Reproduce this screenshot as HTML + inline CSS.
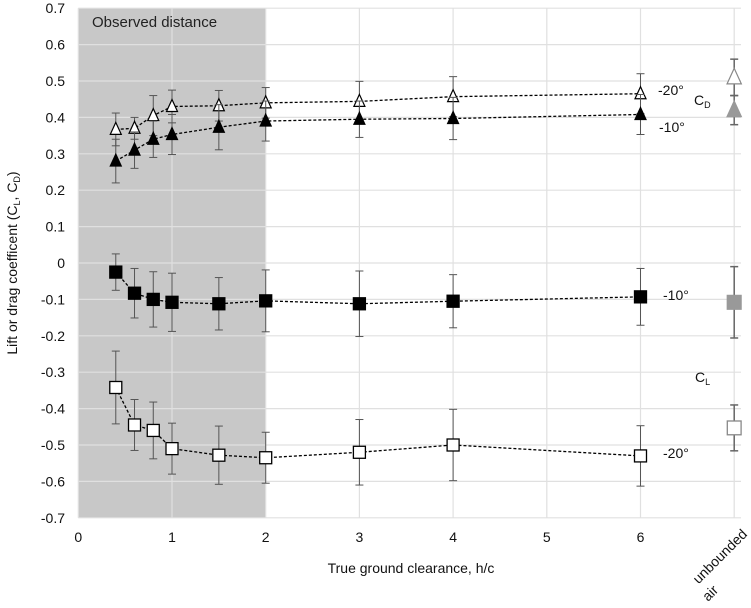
<!DOCTYPE html>
<html><head><meta charset="utf-8"><style>
body{margin:0;background:#fff;}
svg{display:block;font-family:"Liberation Sans",sans-serif;}
</style></head><body>
<svg id="chart" width="751" height="608"></svg>
<script>
const xCats=[0.4,0.6,0.8,1,1.5,2,3,4,6];
const cdM20=[0.367,0.37,0.405,0.43,0.432,0.44,0.444,0.457,0.465];
const cdM20Err=[0.045,0.03,0.055,0.045,0.042,0.042,0.055,0.055,0.055];
const cdM10=[0.28,0.31,0.34,0.353,0.373,0.39,0.395,0.397,0.408];
const cdM10Err=[0.06,0.05,0.05,0.055,0.062,0.055,0.05,0.058,0.055];
const clM10=[-0.025,-0.083,-0.1,-0.108,-0.112,-0.104,-0.112,-0.105,-0.093];
const clM10Err=[0.05,0.068,0.076,0.08,0.072,0.085,0.09,0.073,0.078];
const clM20=[-0.342,-0.445,-0.46,-0.51,-0.528,-0.535,-0.52,-0.5,-0.53];
const clM20Err=[0.1,0.07,0.078,0.07,0.08,0.07,0.09,0.098,0.083];
const unbX=7;
const unbVals=[0.51,0.42,-0.108,-0.453];
const unbErr=[0.05,0.04,0.098,0.063];
const yTicks=[0.7,0.6,0.5,0.4,0.3,0.2,0.1,0,-0.1,-0.2,-0.3,-0.4,-0.5,-0.6,-0.7];
const xTicks=[0,1,2,3,4,5,6];

const NS="http://www.w3.org/2000/svg";
const svg=document.getElementById('chart');
const X=u=>78.3+93.7*u;
const Y=v=>263-364*v;
function el(t,a,p){const e=document.createElementNS(NS,t);for(const k in a)e.setAttribute(k,a[k]);(p||svg).appendChild(e);return e;}

let r=el('rect',{x:X(0),y:Y(0.7),width:X(2)-X(0),height:Y(-0.7)-Y(0.7),fill:'#c8c8c8'});


yTicks.forEach(v=>{
  const g=el('line',{x1:X(0),x2:741,y1:Y(v),y2:Y(v),stroke:'#e0e0e0','stroke-width':1.2});
  
  
  const t=el('text',{x:65,y:Y(v)+5,'text-anchor':'end','font-size':14,fill:'#111'});
  t.textContent=v.toFixed(v===0?0:1);
  
  
});
xTicks.concat([7]).forEach(u=>{
  const g=el('line',{x1:X(u),x2:X(u),y1:Y(0.7),y2:Y(-0.7),stroke:'#e0e0e0','stroke-width':1.2});
  
  
});
xTicks.forEach(u=>{
  const t=el('text',{x:X(u),y:542,'text-anchor':'middle','font-size':14,fill:'#111'});
  t.textContent=u;
  
  
});
let t=el('text',{x:748,y:535,'text-anchor':'end','font-size':14,fill:'#111',transform:'rotate(-45 748 535)'});
t.textContent='unbounded';


t=el('text',{x:719,y:591,'text-anchor':'end','font-size':14,fill:'#111',transform:'rotate(-45 719 591)'});
t.textContent='air';



t=el('text',{x:92,y:27,'font-size':15,fill:'#222'});t.textContent='Observed distance';


t=el('text',{x:411,y:573,'text-anchor':'middle','font-size':14,fill:'#111'});t.textContent='True ground clearance, h/c';


t=el('text',{x:0,y:0,'text-anchor':'middle','font-size':14,fill:'#111',transform:'translate(17 263) rotate(-90)'});
t.innerHTML='Lift or drag coefficent (C<tspan font-size="9" dy="3">L</tspan><tspan dy="-3">, C</tspan><tspan font-size="9" dy="3">D</tspan><tspan dy="-3">)</tspan>';



function marker(kind,x,y,fill,stroke,name,s){
  s=s||1;
  let m;
  if(kind==='tri') m=el('polygon',{points:`${x},${y-7*s} ${x-5.5*s},${y+5*s} ${x+5.5*s},${y+5*s}`,fill,stroke,'stroke-width':1.2});
  else m=el('rect',{x:x-6*s,y:y-6*s,width:12*s,height:12*s,fill,stroke,'stroke-width':1.3});
  
  
}
function errbar(x,v,e,col,w,name){
  const g=el('g',{stroke:col,'stroke-width':w});
  
  
  el('line',{x1:x,x2:x,y1:Y(v+e),y2:Y(v-e)},g);
  el('line',{x1:x-4,x2:x+4,y1:Y(v+e),y2:Y(v+e)},g);
  el('line',{x1:x-4,x2:x+4,y1:Y(v-e),y2:Y(v-e)},g);
}
function series(vals,errs,kind,fill,name){
  vals.forEach((v,i)=>errbar(X(xCats[i]),v,errs[i],'#555',1,name+'-errorbar'));
  const pl=el('polyline',{points:vals.map((v,i)=>X(xCats[i])+','+Y(v)).join(' '),fill:'none',stroke:'#000','stroke-width':1.3,'stroke-dasharray':'3,2'});
  
  
  vals.forEach((v,i)=>marker(kind,X(xCats[i]),Y(v),fill,'#000',name+'-marker'));
}
series(cdM20,cdM20Err,'tri','#fff','cd-minus20');
series(cdM10,cdM10Err,'tri','#000','cd-minus10');
series(clM10,clM10Err,'sq','#000','cl-minus10');
series(clM20,clM20Err,'sq','#fff','cl-minus20');

const ux=X(unbX);
const kinds=['tri','tri','sq','sq'], fills=['#fff','#999','#999','#fff'];
unbVals.forEach((v,i)=>{
  errbar(ux,v,unbErr[i],'#666',1.5,'unbounded-errorbar');
  marker(kinds[i],ux,Y(v),fills[i],i===1||i===2?'#999':'#888','unbounded-marker',kinds[i]==='tri'?1.3:1.15);
});

function label(x,y,html,name){
  const t=el('text',{x,y,'font-size':14,fill:'#111'});t.innerHTML=html;
  
  
}
label(658,95,'-20°','label-cd-minus20');
label(694,105,'C<tspan font-size="9" dy="3">D</tspan>','label-cd');
label(659,132,'-10°','label-cd-minus10');
label(663,300,'-10°','label-cl-minus10');
label(695,382,'C<tspan font-size="9" dy="3">L</tspan>','label-cl');
label(663,458,'-20°','label-cl-minus20');
</script>
</body></html>
